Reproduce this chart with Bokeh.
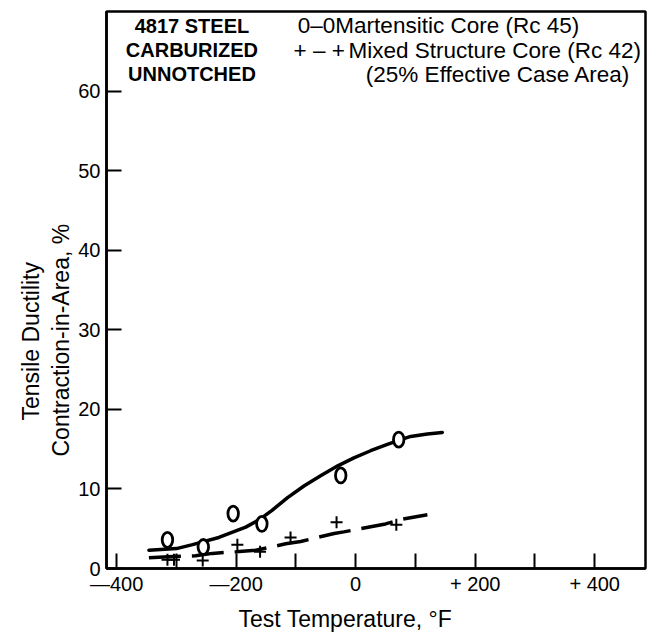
from bokeh.embed import file_html
from bokeh.models import FixedTicker, Label, Range1d, Title
from bokeh.plotting import figure
from bokeh.resources import INLINE

# Martensitic core (Rc 45): open circles
mart_temp = [-315, -255, -205, -157, -25, 72]
mart_ra = [3.6, 2.7, 6.9, 5.6, 11.7, 16.2]

# Mixed structure core (Rc 42): crosses
mixed_temp = [-315, -304, -256, -198, -160, -109, -32, 68]
mixed_ra = [1.1, 1.1, 1.0, 3.0, 2.1, 3.9, 5.8, 5.5]

# Faired trend curves through each set of tests
mart_curve_temp = [-346, -300, -273, -229, -184, -160, -140, -114, -86, -58, -30, -3, 25, 53, 72, 92, 120, 145]
mart_curve_ra = [2.3, 2.5, 3.0, 3.9, 5.2, 6.2, 7.3, 8.9, 10.4, 11.7, 12.9, 13.9, 14.8, 15.6, 16.1, 16.6, 16.9, 17.1]

mixed_curve_temp = [-346, -305, -268, -240, -200, -167, -142, -117, -92, -36, -20, 50, 78, 120]
mixed_curve_ra = [1.35, 1.5, 1.6, 1.9, 2.1, 2.3, 2.7, 3.1, 3.4, 4.4, 4.6, 5.6, 6.2, 6.75]

# Axis ticks
x_ticks = [-400, -200, 0, 200, 400]
x_minor_ticks = [-300, -100, 100, 300]
x_tick_labels = ["\u2014400", "\u2014200", "0", "+ 200", "+ 400"]
y_ticks = [0, 10, 20, 30, 40, 50, 60]

FONT = "Liberation Sans"

p = figure(
    width=651,
    height=637,
    output_backend="svg",
    toolbar_location=None,
    x_range=Range1d(-417, 485),
    y_range=Range1d(0, 70),
    min_border_left=106,
    min_border_right=6,
    min_border_top=11,
    min_border_bottom=69,
    background_fill_color="white",
    border_fill_color="white",
)
p.xgrid.visible = False
p.ygrid.visible = False
p.outline_line_color = "black"
p.outline_line_width = 2.5

# x axis: labelled every 200 degrees, plain ticks in between
p.xaxis.ticker = FixedTicker(ticks=x_ticks, minor_ticks=x_minor_ticks)
p.xaxis.major_label_overrides = dict(zip(x_ticks, x_tick_labels))
p.yaxis.ticker = FixedTicker(ticks=y_ticks, minor_ticks=[])

for ax in (p.xaxis[0], p.yaxis[0]):
    ax.axis_line_width = 2.5
    ax.axis_line_color = "black"
    ax.major_tick_in = 15
    ax.major_tick_out = 0
    ax.major_tick_line_width = 2
    ax.major_tick_line_color = "black"
    ax.minor_tick_in = 15
    ax.minor_tick_out = 0
    ax.minor_tick_line_width = 2
    ax.minor_tick_line_color = "black"
    ax.major_label_text_font = FONT
    ax.major_label_text_font_size = "20px"
    ax.major_label_text_color = "black"
p.xaxis.major_label_standoff = 4
p.yaxis.major_label_standoff = 6

# axis titles, set as side panels so they sit outside the frame
p.add_layout(Title(text="Contraction-in-Area, %", align="left", offset=112, standoff=4,
                   text_font=FONT, text_font_size="23px", text_font_style="normal",
                   text_color="black"), "left")
p.add_layout(Title(text="Tensile Ductility", align="left", offset=148, standoff=0,
                   text_font=FONT, text_font_size="23px", text_font_style="normal",
                   text_color="black"), "left")
p.add_layout(Title(text="Test Temperature, \u00b0F", align="left", offset=132, standoff=12,
                   text_font=FONT, text_font_size="23px", text_font_style="normal",
                   text_color="black"), "below")

# trend curves
p.line(mart_curve_temp, mart_curve_ra, line_color="black", line_width=3.5, line_cap="round")
p.line(mixed_curve_temp, mixed_curve_ra, line_color="black", line_width=3.5, line_dash="32 11")

# test points
p.ellipse(mart_temp, mart_ra, width=10.5, height=15, width_units="screen", height_units="screen",
          fill_color="white", line_color="black", line_width=2.8)
p.scatter(mixed_temp, mixed_ra, marker="cross", size=12, line_color="black", line_width=2)

# specimen description
for txt, yy in (("4817 STEEL", 68.2), ("CARBURIZED", 65.1), ("UNNOTCHED", 62.1)):
    p.add_layout(Label(x=-274, y=yy, text=txt, text_align="center", text_baseline="middle",
                       text_font=FONT, text_font_size="20px", text_font_style="bold", text_color="black"))

# key
key_items = [
    (-97, 68.2, "0\u20130"),
    (-34, 68.2, "Martensitic Core (Rc 45)"),
    (-104, 65.1, "+ \u2013 +"),
    (-12, 65.1, "Mixed Structure Core (Rc 42)"),
    (17, 62.1, "(25% Effective Case Area)"),
]
for xx, yy, txt in key_items:
    p.add_layout(Label(x=xx, y=yy, text=txt, text_align="left", text_baseline="middle",
                       text_font=FONT, text_font_size="22.5px", text_color="black"))

open("out.html", "w").write(file_html(p, INLINE))
